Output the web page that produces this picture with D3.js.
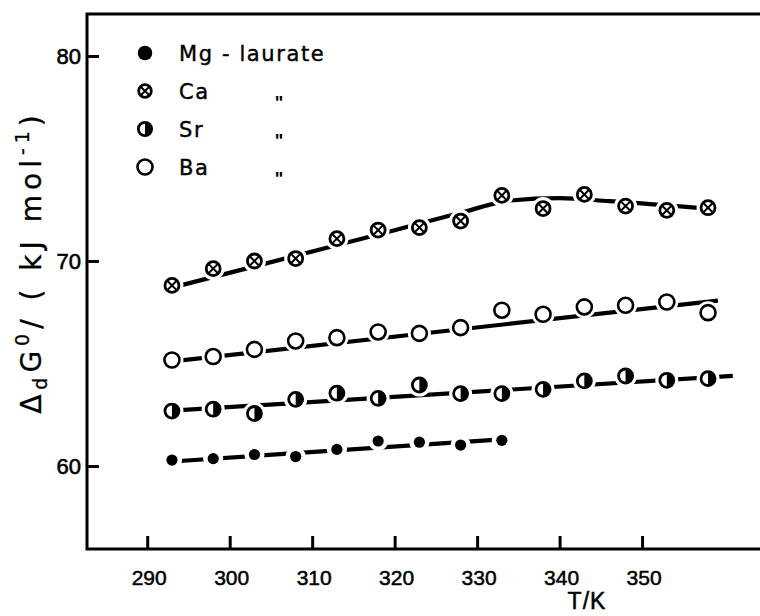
<!DOCTYPE html>
<html>
<head>
<meta charset="utf-8">
<script src="https://cdn.jsdelivr.net/npm/d3@7"></script>
<style>
  html, body { margin: 0; padding: 0; background: #fff; }
  svg { display: block; }
</style>
</head>
<body>
<svg id="chart" width="760" height="616"></svg>
<script>
// ---------- data ----------
const temps = [293, 298, 303, 308, 313, 318, 323, 328, 333, 338, 343, 348, 353, 358];
const mgTemps = [293, 298, 303, 308, 313, 318, 323, 328, 333];
const mgValues = [60.29, 60.36, 60.56, 60.46, 60.81, 61.22, 61.16, 61.02, 61.25];
const caValues = [68.81, 69.63, 70.0, 70.12, 71.09, 71.51, 71.63, 71.95, 73.2, 72.56, 73.25, 72.68, 72.47, 72.6];
const srValues = [62.68, 62.77, 62.56, 63.25, 63.55, 63.30, 63.95, 63.53, 63.53, 63.74, 64.15, 64.39, 64.18, 64.26];
const baValues = [65.17, 65.34, 65.69, 66.10, 66.26, 66.54, 66.47, 66.75, 67.60, 67.40, 67.76, 67.84, 68.0, 67.48];

// fitted curves (drawn by the authors)
const mgFit = [[293, 60.22], [333, 61.30]];
const srFit = [[293, 62.70], [361, 64.40]];
const baFit = [[293, 65.10], [359.2, 68.07]];
const caFit = [[293, 68.70], [320, 71.50], [328, 72.35], [334, 72.95], [340, 73.07], [346, 72.92], [358, 72.55]];

const xTicks = [290, 300, 310, 320, 330, 340, 350];
const yTicks = [60, 70, 80];
const legendLabels = ["Mg - laurate", "Ca", "Sr", "Ba"];
const legendDitto = [false, true, true, true];
const xTitle = "T/K";

// ---------- layout ----------
const svg = d3.select("#chart");
const pLeft = 87, pTop = 14, pRight = 760, pBottom = 549;
const x = d3.scaleLinear().domain([282.7, 364.3]).range([pLeft, pRight]);
const y = d3.scaleLinear().domain([55.95, 82.05]).range([pBottom, pTop]);
const numFont = "'Liberation Sans', Arial, sans-serif";
const narrowFont = "'Liberation Sans Narrow', 'Liberation Sans', Arial, sans-serif";

// frame
svg.append("path")
  .attr("d", `M${pRight},${pTop}H${pLeft}V${pBottom}H${pRight}`)
  .attr("fill", "none").attr("stroke", "#000").attr("stroke-width", 3).attr("stroke-linecap", "square");

// y axis ticks (inward)
const yAxis = d3.axisRight(y).tickValues(yTicks).tickSize(12).tickFormat("");
const gy = svg.append("g").attr("transform", `translate(${pLeft},0)`).call(yAxis);
gy.select(".domain").remove();
gy.selectAll(".tick line").attr("stroke", "#000").attr("stroke-width", 3);
svg.append("g").selectAll("text").data(yTicks).join("text")
  .attr("x", pLeft - 6).attr("y", d => y(d) + 8)
  .attr("text-anchor", "end")
  .attr("font-family", numFont).attr("font-size", 22)
  .attr("stroke", "#000").attr("stroke-width", 0.6)
  .text(d => d);

// x axis ticks (inward, upward)
const xAxis = d3.axisTop(x).tickValues(xTicks).tickSize(13).tickFormat("");
const gx = svg.append("g").attr("transform", `translate(0,${pBottom})`).call(xAxis);
gx.select(".domain").remove();
gx.selectAll(".tick line").attr("stroke", "#000").attr("stroke-width", 3);
svg.append("g").selectAll("text").data(xTicks).join("text")
  .attr("x", d => x(d) + 2).attr("y", pBottom + 36)
  .attr("text-anchor", "middle")
  .attr("font-family", narrowFont)
  .attr("font-size", 21)
  .attr("stroke", "#000").attr("stroke-width", 0.5)
  .text(d => d);

// axis titles
svg.append("text")
  .attr("x", 587).attr("y", 609)
  .attr("text-anchor", "middle")
  .attr("font-family", narrowFont).attr("font-size", 23)
  .attr("stroke", "#000").attr("stroke-width", 0.5)
  .attr("letter-spacing", 1)
  .text(xTitle);

const yt = svg.append("text")
  .attr("transform", "translate(41,262) rotate(-90)")
  .attr("text-anchor", "middle")
  .attr("font-family", "'DejaVu Sans', sans-serif").attr("font-size", 28)
  .attr("stroke", "#000").attr("stroke-width", 0.3)
  .attr("letter-spacing", 5);
yt.append("tspan").text("Δ");
yt.append("tspan").attr("font-size", 19).attr("dy", 6).text("d");
yt.append("tspan").attr("dy", -6).text("G");
yt.append("tspan").attr("font-size", 19).attr("dy", -12).text("0");
yt.append("tspan").attr("dy", 12).text("/ ( kJ  mol");
yt.append("tspan").attr("font-size", 19).attr("dy", -12).text("-1");
yt.append("tspan").attr("dy", 12).text(")");

// ---------- fitted lines ----------
const line = d3.line().x(d => x(d[0])).y(d => y(d[1]));
const lineCurve = d3.line().x(d => x(d[0])).y(d => y(d[1])).curve(d3.curveMonotoneX);
const lines = svg.append("g").attr("fill", "none").attr("stroke", "#000").attr("stroke-width", 4.2).attr("stroke-linecap", "butt");
lines.append("path").attr("d", line(mgFit));
lines.append("path").attr("d", line(srFit));
lines.append("path").attr("d", line(baFit));
lines.append("path").attr("d", lineCurve(caFit));

// ---------- markers ----------
function drawMarker(g, type, cx, cy, halo, scale) {
  const r = (type === "mg" ? 5.6 : 7) * scale;
  if (halo) {
    g.append("circle").attr("cx", cx).attr("cy", cy).attr("r", r + 4.5).attr("fill", "#fff");
  }
  if (type === "mg") {
    g.append("circle").attr("cx", cx).attr("cy", cy).attr("r", r).attr("fill", "#000");
  } else if (type === "ca") {
    g.append("circle").attr("cx", cx).attr("cy", cy).attr("r", r).attr("fill", "#fff").attr("stroke", "#000").attr("stroke-width", 2.8);
    const k = r * 0.6;
    g.append("path").attr("d", `M${cx - k},${cy - k}L${cx + k},${cy + k}M${cx - k},${cy + k}L${cx + k},${cy - k}`)
      .attr("stroke", "#000").attr("stroke-width", 2);
  } else if (type === "sr") {
    g.append("circle").attr("cx", cx).attr("cy", cy).attr("r", r).attr("fill", "#fff").attr("stroke", "#000").attr("stroke-width", 2.8);
    g.append("path").attr("d", `M${cx},${cy - r}A${r},${r} 0 0 1 ${cx},${cy + r}Z`).attr("fill", "#000");
  } else {
    g.append("circle").attr("cx", cx).attr("cy", cy).attr("r", r + 0.5).attr("fill", "#fff").attr("stroke", "#000").attr("stroke-width", 2.6);
  }
}

const series = [
  { type: "mg", t: mgTemps, v: mgValues },
  { type: "ca", t: temps, v: caValues },
  { type: "sr", t: temps, v: srValues },
  { type: "ba", t: temps, v: baValues }
];
const pts = svg.append("g");
series.forEach(s => {
  s.t.forEach((t, i) => drawMarker(pts, s.type, x(t), y(s.v[i]), true, 1));
});

// ---------- legend ----------
const leg = svg.append("g");
const legendScale = [1.3, 0.9, 0.95, 1];
series.forEach((s, i) => {
  const ly = 53 + i * 38;
  drawMarker(leg, s.type, 145, ly, false, legendScale[i]);
  leg.append("text").attr("x", 179).attr("y", ly + 8)
    .attr("font-family", "'DejaVu Sans', sans-serif").attr("font-size", 21)
    .attr("stroke", "#000").attr("stroke-width", 0.4)
    .attr("letter-spacing", 1.6)
    .text(legendLabels[i]);
  if (legendDitto[i]) {
    leg.append("text").attr("x", 279).attr("y", ly + 18)
      .attr("text-anchor", "middle")
      .attr("font-family", numFont).attr("font-size", 18).attr("font-weight", "bold")
      .text("\u0022");
  }
});
</script>
</body>
</html>
